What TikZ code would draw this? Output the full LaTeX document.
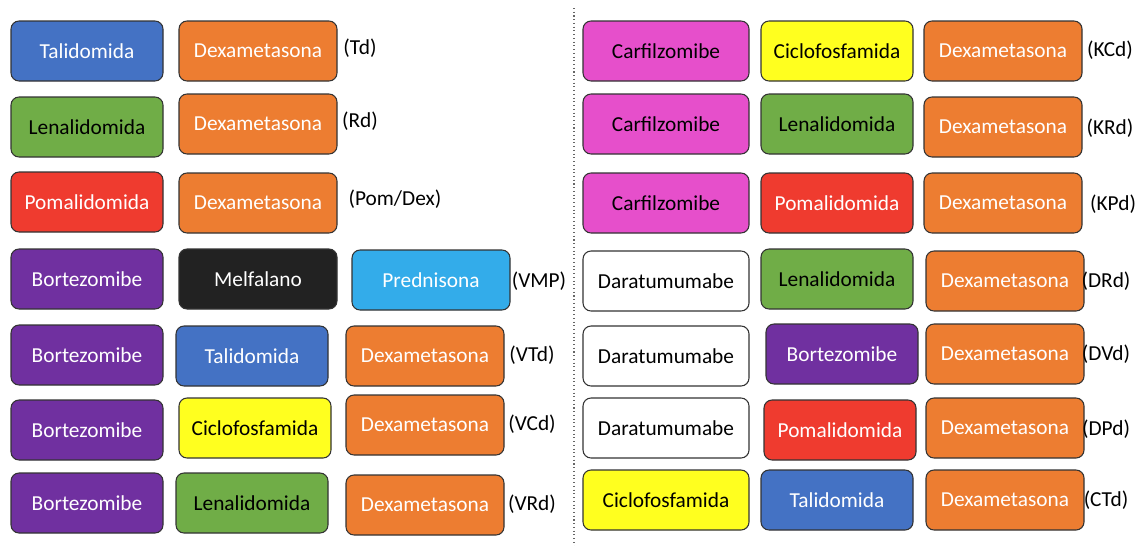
\documentclass[tikz,border=0pt]{standalone}
\usepackage{fontspec}
\setmainfont{Carlito}
\definecolor{taliblue}{HTML}{4472C4}
\definecolor{dexorange}{HTML}{ED7D31}
\definecolor{lenagreen}{HTML}{70AD47}
\definecolor{pomared}{HTML}{EF3B2F}
\definecolor{bortpurple}{HTML}{7030A0}
\definecolor{melfblack}{HTML}{222222}
\definecolor{predblue}{HTML}{33ACEA}
\definecolor{cicloyellow}{HTML}{FFFF1F}
\definecolor{carfmagenta}{HTML}{E64FCB}
\begin{document}
\begin{tikzpicture}[x=0.75pt, y=-0.75pt,
  drug/.style={draw=black!80, line width=0.8pt, rounded corners=6pt, minimum height=45pt, minimum width=114pt, inner sep=0pt, font=\fontsize{16}{19}\selectfont, text=white},
  tali/.style={drug, fill=taliblue},
  dexa/.style={drug, fill=dexorange, minimum width=118.5pt},
  lena/.style={drug, fill=lenagreen, text=black},
  poma/.style={drug, fill=pomared},
  bort/.style={drug, fill=bortpurple},
  melf/.style={drug, fill=melfblack, minimum width=118.5pt},
  pred/.style={drug, fill=predblue, minimum width=118.5pt},
  ciclo/.style={drug, fill=cicloyellow, text=black},
  carf/.style={drug, fill=carfmagenta, text=black, minimum width=124.5pt},
  dara/.style={drug, fill=white, text=black, minimum width=124.5pt},
  regime/.style={font=\fontsize{16}{19}\selectfont, inner sep=0pt}]
\useasboundingbox (0,0) rectangle (1142,546);

% left half
\node[tali] (td-tal) at (87,51) {Talidomida};
\node[dexa] (td-dex) at (258,51) {Dexametasona};
\node[regime] (td) at (360,48) {(Td)};

\node[lena] (rd-len) at (87,127) {Lenalidomida};
\node[dexa] (rd-dex) at (258,124) {Dexametasona};
\node[regime] (rd) at (360,121) {(Rd)};

\node[poma] (pd-pom) at (87,202) {Pomalidomida};
\node[dexa] (pd-dex) at (258,203) {Dexametasona};
\node[regime] (pd) at (395,199) {(Pom/Dex)};

\node[bort] (vmp-bor) at (87,279) {Bortezomibe};
\node[melf] (vmp-mel) at (258,279) {Melfalano};
\node[pred] (vmp-pre) at (431,280) {Prednisona};
\node[regime] (vmp) at (539,281) {(VMP)};

\node[bort] (vtd-bor) at (87,355) {Bortezomibe};
\node[tali] (vtd-tal) at (252,356) {Talidomida};
\node[dexa] (vtd-dex) at (425,356) {Dexametasona};
\node[regime] (vtd) at (532,355) {(VTd)};

\node[bort] (vcd-bor) at (87,430) {Bortezomibe};
\node[ciclo] (vcd-cic) at (255,428) {Ciclofosfamida};
\node[dexa] (vcd-dex) at (425,425) {Dexametasona};
\node[regime] (vcd) at (532,424) {(VCd)};

\node[bort] (vrd-bor) at (87,503) {Bortezomibe};
\node[lena] (vrd-len) at (252,503) {Lenalidomida};
\node[dexa] (vrd-dex) at (425,505) {Dexametasona};
\node[regime] (vrd) at (532,504) {(VRd)};

% divider
\coordinate (divtop) at (574,8);
\coordinate (divbot) at (574,546);
\draw[dotted, line width=0.8pt, black!60] (divtop) -- (divbot);

% right half
\node[carf] (kcd-car) at (666,51) {Carfilzomibe};
\node[ciclo] (kcd-cic) at (837,51) {Ciclofosfamida};
\node[dexa] (kcd-dex) at (1003,51) {Dexametasona};
\node[regime] (kcd) at (1110,50) {(KCd)};

\node[carf] (krd-car) at (666,124) {Carfilzomibe};
\node[lena] (krd-len) at (837,124) {Lenalidomida};
\node[dexa] (krd-dex) at (1003,127) {Dexametasona};
\node[regime] (krd) at (1110,128) {(KRd)};

\node[carf] (kpd-car) at (666,203) {Carfilzomibe};
\node[poma] (kpd-pom) at (837,203) {Pomalidomida};
\node[dexa] (kpd-dex) at (1003,203) {Dexametasona};
\node[regime] (kpd) at (1113,204) {(KPd)};

\node[dara] (drd-dar) at (666,281) {Daratumumabe};
\node[lena] (drd-len) at (837,279) {Lenalidomida};
\node[dexa] (drd-dex) at (1005,281) {Dexametasona};
\node[regime] (drd) at (1106,281) {(DRd)};

\node[dara] (dvd-dar) at (666,356) {Daratumumabe};
\node[bort] (dvd-bor) at (842,354) {Bortezomibe};
\node[dexa] (dvd-dex) at (1005,354) {Dexametasona};
\node[regime] (dvd) at (1106,354) {(DVd)};

\node[dara] (dpd-dar) at (666,428) {Daratumumabe};
\node[poma] (dpd-pom) at (840,430) {Pomalidomida};
\node[dexa] (dpd-dex) at (1005,428) {Dexametasona};
\node[regime] (dpd) at (1106,429) {(DPd)};

\node[ciclo, minimum width=124.5pt] (ctd-cic) at (666,500) {Ciclofosfamida};
\node[tali] (ctd-tal) at (837,500) {Talidomida};
\node[dexa] (ctd-dex) at (1005,500) {Dexametasona};
\node[regime] (ctd) at (1106,500) {(CTd)};
\end{tikzpicture}
\end{document}
